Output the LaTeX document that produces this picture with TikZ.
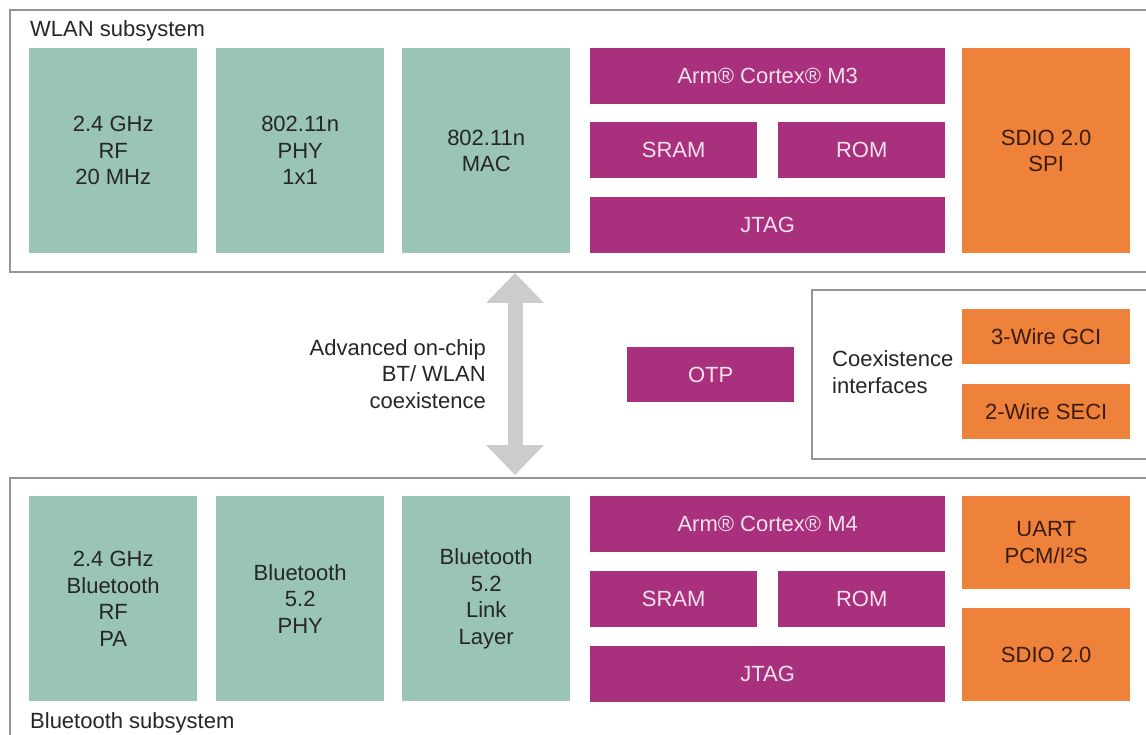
\documentclass[tikz,border=0pt]{standalone}
\usepackage{fontspec}
\setmainfont{Liberation Sans}
\usepackage{xcolor}
\usepackage{tikz}
\usetikzlibrary{arrows.meta}

\definecolor{radiogreen}{HTML}{9AC4B8}
\definecolor{armplum}{HTML}{A8307C}
\definecolor{portorange}{HTML}{EF823A}
\definecolor{framegray}{HTML}{959595}
\definecolor{plumtext}{HTML}{F6E1EC}
\definecolor{porttext}{HTML}{3A1C0E}

\begin{document}
\begin{tikzpicture}[x=1pt, y=-1pt,
    every node/.style={font=\fontsize{22}{26.5}\selectfont, inner sep=0pt, align=center, text=black!85},
    radio/.style={fill=radiogreen, anchor=north west, minimum width=168pt, minimum height=205pt},
    core/.style={fill=armplum, text=plumtext, anchor=north west, minimum height=56pt},
    port/.style={fill=portorange, text=porttext, anchor=north west, minimum width=168pt},
    frame/.style={draw=framegray, line width=1.6pt},
    coexarrow/.style={color=gray!40, line width=15pt,
        {Triangle[length=30pt,width=56pt]}-{Triangle[length=30pt,width=56pt]}}]

        % Page and clipping
        \useasboundingbox (0,0) rectangle (1146,735);
        \fill[white] (0,0) rectangle (1146,735);
        \clip (0,0) rectangle (1146,735);

        % Subsystem frames
        \draw[frame] (10,10) rectangle (1156,272);
        \draw[frame] (10,478) rectangle (1156,745);
        \draw[frame] (812,290) rectangle (1156,459);

        % Frame labels
        \node[anchor=base west] (wlabel) at (30,37) {WLAN subsystem};
        \node[anchor=base west] (blabel) at (30,728) {Bluetooth subsystem};

        % WLAN subsystem
        \node[radio] (wrf) at (29,48) {2.4 GHz\\RF\\20 MHz};
        \node[radio] (wphy) at (216,48) {802.11n\\PHY\\1x1};
        \node[radio] (wmac) at (402,48) {802.11n\\MAC};
        \node[core, minimum width=355pt] (wcpu) at (590,48) {Arm® Cortex® M3};
        \node[core, minimum width=167pt] (wsram) at (590,122) {SRAM};
        \node[core, minimum width=167pt] (wrom) at (778,122) {ROM};
        \node[core, minimum width=355pt] (wjtag) at (590,197) {JTAG};
        \node[port, minimum height=205pt] (wsdio) at (962,48) {SDIO 2.0\\SPI};

        % Coexistence between the two subsystems
        \coordinate (ctop) at (515,273);
        \coordinate (cbot) at (515,475);
        \draw[coexarrow] (ctop) -- (cbot);
        \node[anchor=east, align=right] (coex) at (486,374) {Advanced on-chip\\BT/ WLAN\\coexistence};
        \node[core, minimum width=167pt, minimum height=55pt] (otp) at (627,347) {OTP};
        \node[anchor=west, align=left] (ciface) at (832,372) {Coexistence\\interfaces};
        \node[port, minimum height=55pt] (gci) at (962,309) {3-Wire GCI};
        \node[port, minimum height=55pt] (seci) at (962,384) {2-Wire SECI};

        % Bluetooth subsystem
        \node[radio] (brf) at (29,496) {2.4 GHz\\Bluetooth\\RF\\PA};
        \node[radio] (bphy) at (216,496) {Bluetooth\\5.2\\PHY};
        \node[radio] (bll) at (402,496) {Bluetooth\\5.2\\Link\\Layer};
        \node[core, minimum width=355pt] (bcpu) at (590,496) {Arm® Cortex® M4};
        \node[core, minimum width=167pt] (bsram) at (590,571) {SRAM};
        \node[core, minimum width=167pt] (brom) at (778,571) {ROM};
        \node[core, minimum width=355pt] (bjtag) at (590,646) {JTAG};
        \node[port, minimum height=93pt] (buart) at (962,496) {UART\\PCM/I²S};
        \node[port, minimum height=93pt] (bsdio) at (962,608) {SDIO 2.0};
    \end{tikzpicture}
\end{document}
